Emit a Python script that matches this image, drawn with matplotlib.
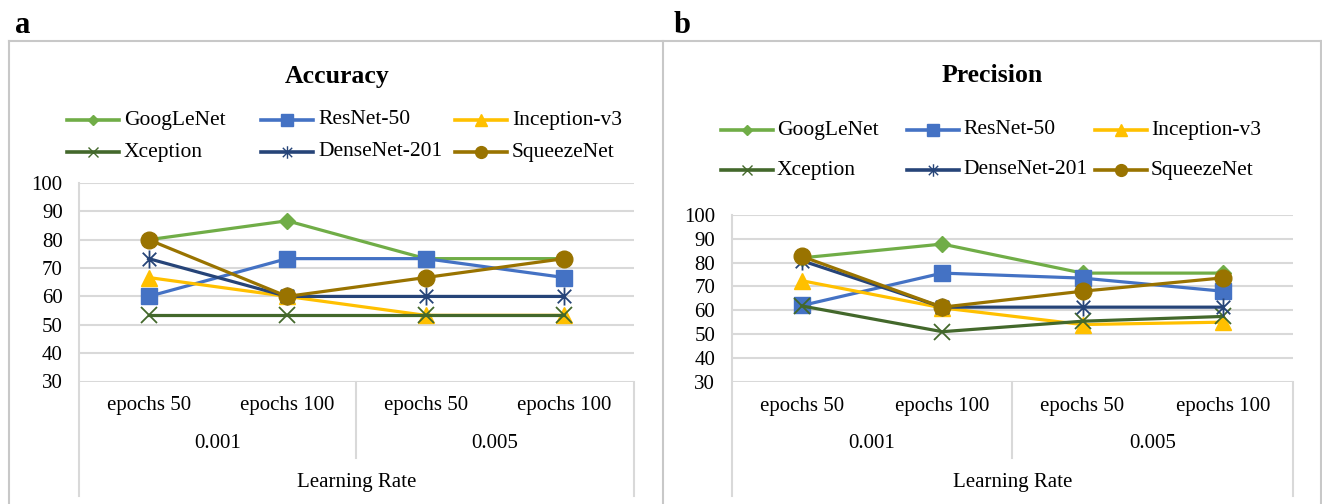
import matplotlib.pyplot as plt
import numpy as np
from matplotlib.lines import Line2D
from matplotlib.path import Path
import matplotlib.transforms as mtransforms

plt.rcParams['font.family'] = ['Liberation Serif', 'DejaVu Serif']

W, H = 1322, 504  # figure size in pixels (dpi 100)

categories = ['epochs 50', 'epochs 100', 'epochs 50', 'epochs 100']
rates = ['0.001', '0.005']
models = ['GoogLeNet', 'ResNet-50', 'Inception-v3', 'Xception', 'DenseNet-201', 'SqueezeNet']

# Accuracy (%)
acc_googlenet = [80.0, 86.67, 73.33, 73.33]
acc_resnet50 = [60.0, 73.33, 73.33, 66.67]
acc_inception = [66.67, 60.0, 53.33, 53.33]
acc_xception = [53.33, 53.33, 53.33, 53.33]
acc_densenet = [73.33, 60.0, 60.0, 60.0]
acc_squeezenet = [80.0, 60.0, 66.67, 73.33]

# Precision (%)
prec_googlenet = [82.0, 87.8, 75.6, 75.6]
prec_resnet50 = [62.0, 75.6, 73.5, 68.0]
prec_inception = [72.4, 61.0, 54.0, 55.0]
prec_xception = [61.8, 51.0, 55.4, 57.4]
prec_densenet = [80.8, 61.3, 61.3, 61.3]
prec_squeezenet = [82.6, 61.3, 68.0, 73.6]

# excel style star: an x with a vertical bar
star = Path([(0, -1), (0, 1), (-0.75, -0.75), (0.75, 0.75), (-0.75, 0.75), (0.75, -0.75)],
            [Path.MOVETO, Path.LINETO, Path.MOVETO, Path.LINETO, Path.MOVETO, Path.LINETO])

# colour, marker, plot marker size, legend marker size, filled marker?
styles = {
    'GoogLeNet': ('#70AD47', 'D', 8.5, 5.5, True),
    'ResNet-50': ('#4472C4', 's', 12, 8.5, True),
    'Inception-v3': ('#FFC000', '^', 12, 8.5, True),
    'Xception': ('#43682B', 'x', 11, 7.5, False),
    'DenseNet-201': ('#264478', star, 13, 9, False),
    'SqueezeNet': ('#997300', 'o', 12, 8.5, True),
}

grid_col = '#d9d9d9'
frame_col = '#c8c8c8'


def fx(x):
    return x / W


def fy(y):
    return 1 - y / H


fig = plt.figure(figsize=(W / 100, H / 100), dpi=100)

# outer frame with divider between the two panels
for xs, ys in [([9, 1321], [41, 41]), ([9, 9], [41, 504]), ([663, 663], [41, 504]),
               ([1321, 1321], [41, 504])]:
    fig.add_artist(Line2D([fx(v) for v in xs], [fy(v) for v in ys], color=frame_col, lw=1.5))

fig.text(fx(15), fy(33), 'a', fontsize=22, fontweight='bold', va='baseline')
fig.text(fx(674), fy(33), 'b', fontsize=22, fontweight='bold', va='baseline')


def panel(rect, title, title_xy, series, leg_x, leg_y, text_dx):
    ax = fig.add_axes(rect)
    x = np.arange(len(categories))
    for name, vals in zip(models, series):
        col, mk, ms, _, filled = styles[name]
        ax.plot(x, vals, color=col, lw=2.3, marker=mk, markersize=ms,
                markerfacecolor=col if filled else 'none', markeredgecolor=col,
                markeredgewidth=1.0 if filled else 1.3, clip_on=False, zorder=3)

    ax.set_xlim(-0.5, 3.5)
    ax.set_ylim(30, 100)
    ax.set_yticks(np.arange(30, 101, 10))
    ax.yaxis.grid(True, color=grid_col, lw=1.5)
    ax.set_axisbelow(True)
    for s in ax.spines.values():
        s.set_visible(False)
    ax.tick_params(axis='y', length=0, pad=12, labelsize=15)
    ax.set_xticks(x, categories)
    ax.tick_params(axis='x', length=0, pad=17.5, labelsize=15)
    for lab in ax.get_xticklabels():
        lab.set_va('center')

    # multi-level category axis below the plot
    tr = mtransforms.blended_transform_factory(ax.transData, fig.transFigure)
    top = rect[1] + rect[3]
    bot = rect[1]
    ax.add_artist(Line2D([-0.5, -0.5], [top, fy(496)], transform=tr, color=grid_col,
                         lw=1.5, clip_on=False))
    ax.add_artist(Line2D([3.5, 3.5], [bot, fy(496)], transform=tr, color=grid_col,
                         lw=1.5, clip_on=False))
    ax.add_artist(Line2D([1.5, 1.5], [bot, fy(458)], transform=tr, color=grid_col,
                         lw=1.5, clip_on=False))
    for i, r in enumerate(rates):
        ax.text(2 * i + 0.5, fy(444), r, transform=tr, ha='center', va='center', fontsize=15)
    ax.text(1.5, fy(482), 'Learning Rate', transform=tr, ha='center', va='center', fontsize=15)

    fig.text(fx(title_xy[0]), fy(title_xy[1]), title, ha='center', va='center',
             fontsize=18.5, fontweight='bold')

    # legend, three entries per row
    for k, name in enumerate(models):
        col, mk, _, lms, filled = styles[name]
        x0 = leg_x[k % 3]
        y0 = leg_y[k // 3]
        fig.add_artist(Line2D([fx(x0), fx(x0 + 26), fx(x0 + 52)], [fy(y0)] * 3,
                              color=col, lw=2.6, marker=mk, markersize=lms, markevery=[1],
                              markerfacecolor=col if filled else 'none',
                              markeredgecolor=col, markeredgewidth=1.0))
        fig.text(fx(x0 + text_dx), fy(y0), name, ha='left', va='center', fontsize=15.5)
    return ax


panel([79.3 / W, (H - 381.5) / H, (633.5 - 79.3) / W, (381.5 - 183) / H],
      'Accuracy', (337, 76),
      [acc_googlenet, acc_resnet50, acc_inception, acc_xception, acc_densenet, acc_squeezenet],
      [67, 261, 455], [120, 152], 57)

panel([731.8 / W, (H - 381.7) / H, (1293 - 731.8) / W, (381.7 - 215) / H],
      'Precision', (992, 76),
      [prec_googlenet, prec_resnet50, prec_inception, prec_xception, prec_densenet, prec_squeezenet],
      [721, 907, 1095], [130, 170], 56)

fig.savefig('out.png', dpi=100)
